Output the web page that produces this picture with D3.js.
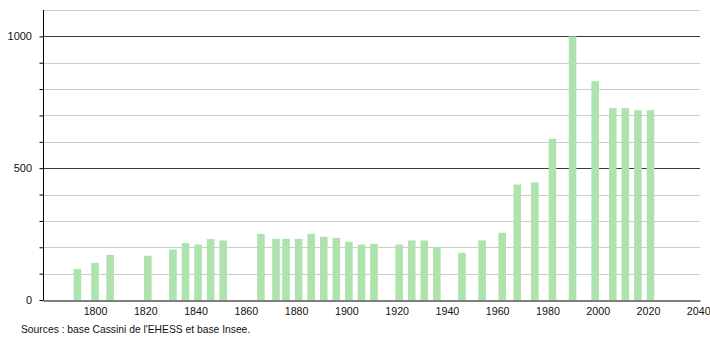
<!DOCTYPE html>
<html>
<head>
<meta charset="utf-8">
<script src="https://cdn.jsdelivr.net/npm/d3@7"></script>
<style>
  body { margin: 0; background: #fff; }
  svg { font-family: "Liberation Sans", Arial, sans-serif; }
</style>
</head>
<body>
<svg id="chart" width="710" height="340"></svg>
<script>
// census years and population
const years = [1793, 1800, 1806, 1821, 1831, 1836, 1841, 1846, 1851,
  1866, 1872, 1876, 1881, 1886, 1891, 1896, 1901, 1906, 1911,
  1921, 1926, 1931, 1936, 1946, 1954, 1962, 1968, 1975, 1982,
  1990, 1999, 2006, 2011, 2016, 2021];
const population = [118, 141, 171, 168, 192, 216, 210, 231, 226,
  251, 232, 232, 232, 251, 240, 236, 221, 210, 213,
  210, 226, 226, 201, 179, 226, 255, 438, 446, 612,
  1000, 830, 728, 728, 720, 720];
const xTicks = [1800, 1820, 1840, 1860, 1880, 1900, 1920, 1940, 1960, 1980, 2000, 2020, 2040];
const yGrid = [100, 200, 300, 400, 500, 600, 700, 800, 900, 1000, 1100];
const yLabels = [0, 500, 1000];
const source = "Sources : base Cassini de l'EHESS et base Insee.";

const svg = d3.select("#chart");

const x = d3.scaleLinear()
  .domain([1779.3, 2040.7])
  .range([43, 700]);

const y = d3.scaleLinear()
  .domain([0, 1100])
  .range([300, 10]);

// grid lines
svg.append("g")
  .selectAll("line")
  .data(yGrid)
  .join("line")
  .attr("x1", 43)
  .attr("x2", 700)
  .attr("y1", d => Math.round(y(d)) + 0.5)
  .attr("y2", d => Math.round(y(d)) + 0.5)
  .attr("stroke", d => d % 500 === 0 ? "#3a3a3a" : "#cccccc")
  .attr("stroke-width", 1);

// bars
svg.append("g")
  .selectAll("rect")
  .data(years)
  .join("rect")
  .attr("x", d => x(d) - 3.8)
  .attr("width", 7.6)
  .attr("y", (d, i) => y(population[i]))
  .attr("height", (d, i) => y(0) - y(population[i]))
  .attr("fill", "#aee3ae");

// y axis
const yAxis = svg.append("g")
  .attr("transform", "translate(43.5,0)")
  .call(d3.axisLeft(y).tickValues(d3.range(0, 1001, 100)).tickSize(4).tickFormat(""));
yAxis.select(".domain").attr("d", `M0,${y(1100)}V${y(0)}`).attr("stroke", "#000");
yAxis.selectAll(".tick line").attr("stroke", "#000");

svg.append("g")
  .selectAll("text")
  .data(yLabels)
  .join("text")
  .attr("x", 32)
  .attr("y", d => y(d) + 4)
  .attr("text-anchor", "end")
  .style("font-size", "11px")
  .attr("fill", "#111")
  .text(d => d);

// x axis
const xAxis = svg.append("g")
  .attr("transform", `translate(0,${Math.round(y(0)) + 0.5})`)
  .call(d3.axisBottom(x).tickValues(xTicks).tickSize(0).tickFormat(d3.format("d")));
xAxis.select(".domain").attr("stroke", "#000");
xAxis.selectAll("text")
  .attr("dy", "11px")
  .style("font-size", "10.7px")
  .style("font-family", "'Liberation Sans', Arial, sans-serif")
  .attr("fill", "#111");

svg.append("text")
  .attr("x", 21)
  .attr("y", 333)
  .style("font-size", "10.3px")
  .attr("fill", "#111")
  .text(source);
</script>
</body>
</html>
